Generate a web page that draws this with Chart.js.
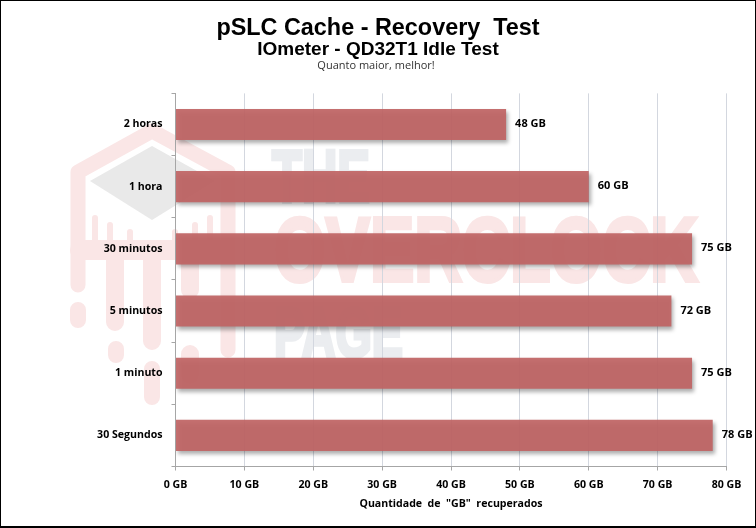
<!DOCTYPE html>
<html>
<head>
<meta charset="utf-8">
<title>pSLC Cache - Recovery Test</title>
<script src="https://cdn.jsdelivr.net/npm/chart.js@4"></script>
<style>
  html, body { margin: 0; padding: 0; background: #fff; }
  #wrap { position: relative; width: 756px; height: 528px; overflow: hidden; }
  #wrap svg, #wrap canvas { position: absolute; left: 0; top: 0; }
  #wrap::after { content: ''; position: absolute; inset: 0; border: 1px solid #000; border-bottom-width: 2px; box-sizing: border-box; pointer-events: none; }
</style>
</head>
<body>
<div id="wrap">
  <!-- watermark behind the chart -->
  <svg width="756" height="528" aria-hidden="true">
    <g fill="none" stroke="#fae6e6" stroke-width="15" stroke-linejoin="round" stroke-linecap="round">
      <path d="M78 285 V172 L152 131 L228 172 V350"/>
      <path stroke-width="18" d="M115 250 V322 M152 250 V341 M190 250 V290 M190 354 V375"/>
      <path stroke-width="6" d="M95 218 V255 M110 225 V255 M130 232 V255 M175 232 V255 M195 225 V255 M210 218 V255"/>
      <path stroke-width="16" d="M78 310 V320 M116 349 V355 M152 369 V397"/>
      <path stroke-width="20" d="M80 250 H225"/>
    </g>
    <path d="M90 181 L152 146 L215 181 L152 220 Z" fill="#e9e9e9"/>
    <g font-family="'Liberation Sans', Arial, sans-serif" font-weight="700">
      <text x="272" y="202" font-size="75" fill="#ebedf0" stroke="#ebedf0" stroke-width="4" textLength="98" lengthAdjust="spacingAndGlyphs">THE</text>
      <text x="274" y="281" font-size="90" fill="#fae6e6" stroke="#fae6e6" stroke-width="4" textLength="424" lengthAdjust="spacingAndGlyphs">OVERCLOCK</text>
      <text x="274" y="357" font-size="71" fill="#ebedf0" stroke="#ebedf0" stroke-width="4" textLength="129" lengthAdjust="spacingAndGlyphs">PAGE</text>
    </g>
  </svg>
  <canvas id="chart" width="756" height="528"></canvas>
</div>
<script>
// values
const categories = ['2 horas', '1 hora', '30 minutos', '5 minutos', '1 minuto', '30 Segundos'];
const recovered = [48, 60, 75, 72, 75, 78];
const xTicks = [0, 10, 20, 30, 40, 50, 60, 70, 80];

const titleText = 'pSLC Cache - Recovery  Test';
const subtitleText = 'IOmeter - QD32T1 Idle Test';
const noteText = 'Quanto maior, melhor!';
const xAxisTitle = 'Quantidade  de  "GB"  recuperados';

const sansFont = "'Liberation Sans', Arial, sans-serif";
const labelFont = "'Open Sans', sans-serif";

// soft shadow under the bars
const barShadow = {
  id: 'barShadow',
  beforeDatasetDraw(chart) {
    const ctx = chart.ctx;
    ctx.save();
    ctx.shadowColor = 'rgba(0,0,0,0.35)';
    ctx.shadowBlur = 4;
    ctx.shadowOffsetX = 2;
    ctx.shadowOffsetY = 3;
  },
  afterDatasetDraw(chart) {
    chart.ctx.restore();
  }
};

// "48 GB" labels at the end of the bars, and the small third title line
const barLabels = {
  id: 'barLabels',
  afterDraw(chart) {
    const ctx = chart.ctx;
    ctx.save();
    ctx.fillStyle = '#000';
    ctx.font = "700 11px " + labelFont;
    ctx.textAlign = 'left';
    ctx.textBaseline = 'middle';
    chart.getDatasetMeta(0).data.forEach((bar, i) => {
      ctx.fillText(recovered[i] + ' GB', bar.x + 9, bar.y - 0.5);
    });
    ctx.fillStyle = '#333';
    ctx.font = "11px " + labelFont;
    ctx.textAlign = 'center';
    ctx.fillText(noteText, 376, 65.5);
    ctx.restore();
  }
};

new Chart(document.getElementById('chart'), {
  type: 'bar',
  data: {
    labels: categories,
    datasets: [{
      data: recovered,
      backgroundColor: 'rgba(192,100,100,0.93)',
      barPercentage: 0.5,
      categoryPercentage: 1
    }]
  },
  options: {
    indexAxis: 'y',
    responsive: false,
    animation: false,
    layout: { padding: { left: 29.5, right: 29.5, top: 0, bottom: 17.5 } },
    plugins: {
      legend: { display: false },
      tooltip: { enabled: false },
      title: {
        display: true,
        text: titleText,
        color: '#000',
        font: { family: sansFont, size: 23.4, weight: 'bold' },
        padding: { top: 15, bottom: -5 }
      },
      subtitle: {
        display: true,
        text: subtitleText,
        color: '#000',
        font: { family: sansFont, size: 19, weight: 'bold' },
        padding: { top: 0, bottom: 32.5 }
      }
    },
    scales: {
      x: {
        min: 0,
        max: 80,
        afterBuildTicks(scale) { scale.ticks = xTicks.map(v => ({ value: v })); },
        afterFit(scale) { scale.height = 44; },
        grid: { color: '#d3d7df', tickColor: '#a6a6a6', tickLength: 4 },
        border: { color: '#a6a6a6' },
        ticks: {
          color: '#000',
          padding: 8,
          maxRotation: 0,
          font: { family: labelFont, size: 10.6, weight: '700' },
          callback: v => v + ' GB'
        },
        title: {
          display: true,
          text: xAxisTitle,
          color: '#000',
          padding: { top: 3, bottom: 0 },
          font: { family: labelFont, size: 10.6, weight: '700' }
        }
      },
      y: {
        afterFit(scale) { scale.width = 146; },
        grid: { color: 'rgba(0,0,0,0)', tickColor: '#a6a6a6', tickLength: 4, offset: true },
        border: { color: '#a6a6a6' },
        ticks: {
          color: '#000',
          padding: 9,
          font: { family: labelFont, size: 10.6, weight: '700' }
        }
      }
    }
  },
  plugins: [barShadow, barLabels]
});
</script>
</body>
</html>
